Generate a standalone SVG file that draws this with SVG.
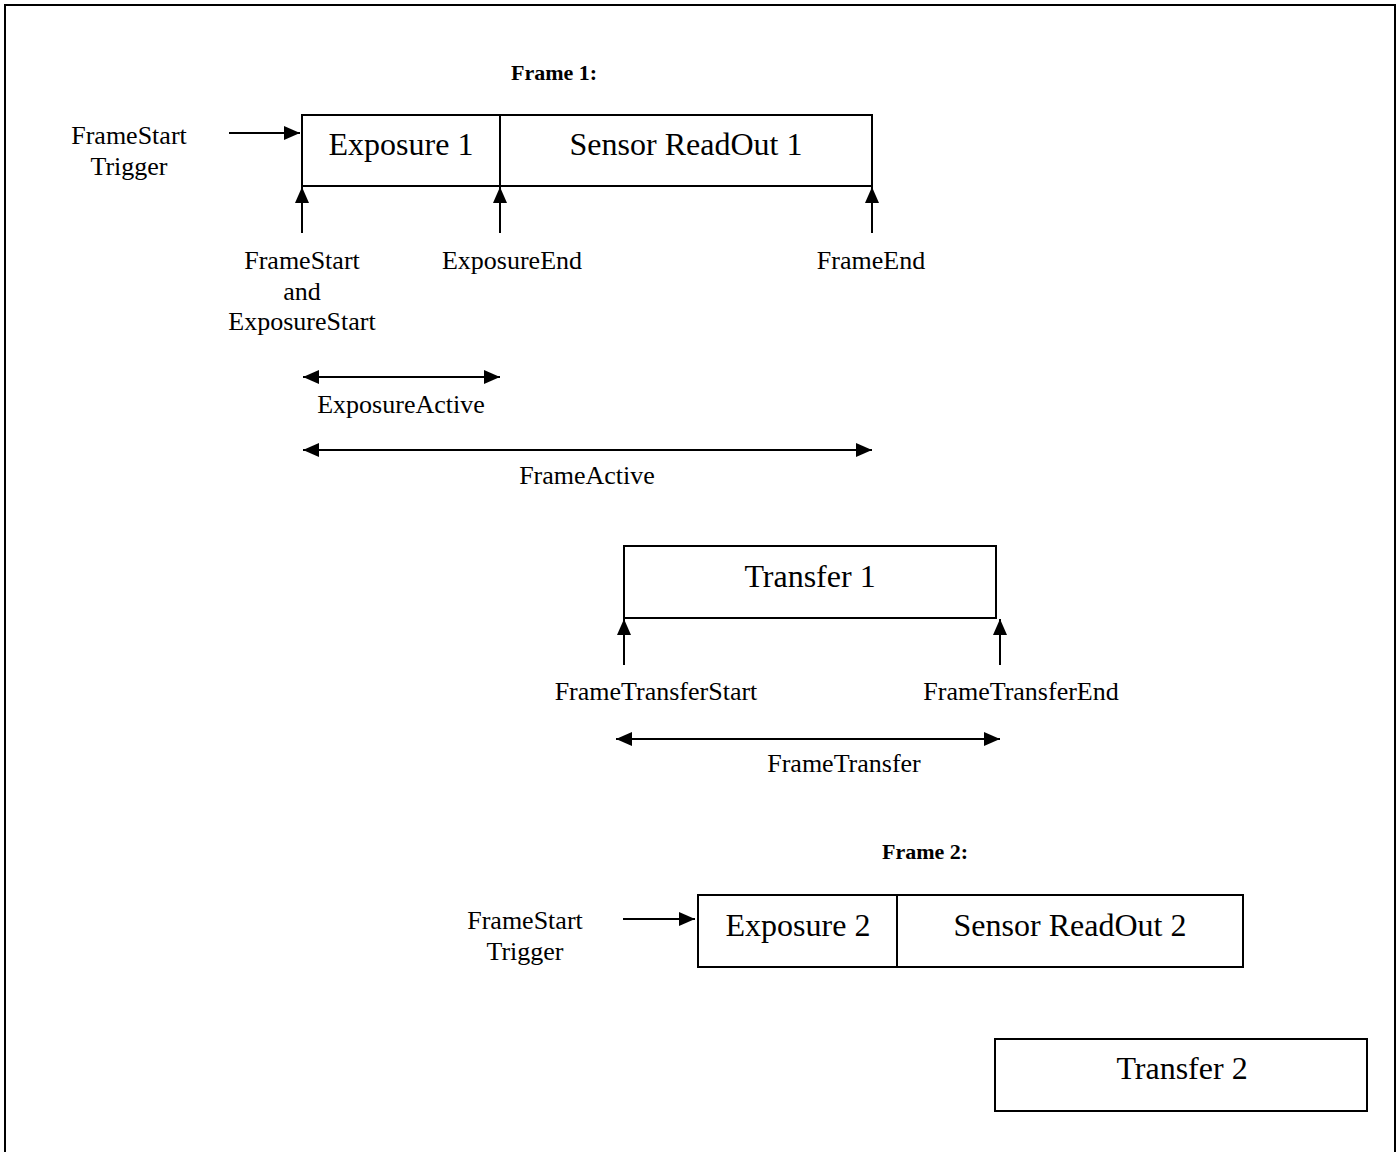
<svg xmlns="http://www.w3.org/2000/svg" width="1399" height="1152" viewBox="0 0 1399 1152">
<style>
text{font-family:"Liberation Serif","Times New Roman",serif;fill:#000;text-anchor:middle}
.s{font-size:26px}
.l{font-size:32px}
.b{font-size:22px;font-weight:bold}
.box{fill:#fff;stroke:#000;stroke-width:2}
.ln{stroke:#000;stroke-width:2;fill:none}
</style>
<defs>
<marker id="ah" viewBox="0 0 16 14" refX="16" refY="7" markerWidth="16" markerHeight="14" markerUnits="userSpaceOnUse" orient="auto-start-reverse">
<path d="M0,0 L16,7 L0,14 z" fill="#000"/>
</marker>
</defs>
<rect x="0" y="0" width="1399" height="1152" fill="#fff"/>
<rect x="5" y="5" width="1390" height="1160" fill="none" stroke="#000" stroke-width="2"/>

<g id="frame1">
<text class="b" x="554" y="80">Frame 1:</text>
<g id="exposure1"><rect class="box" x="302" y="115" width="198" height="71"/><text class="l" x="401" y="155">Exposure 1</text></g>
<g id="readout1"><rect class="box" x="500" y="115" width="372" height="71"/><text class="l" x="686" y="155">Sensor ReadOut 1</text></g>
<g id="trigger1"><text class="s" x="129" y="144">FrameStart</text><text class="s" x="129" y="175">Trigger</text></g>
</g>

<g id="labels1">
<text class="s" x="302" y="269">FrameStart</text>
<text class="s" x="302" y="300">and</text>
<text class="s" x="302" y="330">ExposureStart</text>
<text class="s" x="512" y="269">ExposureEnd</text>
<text class="s" x="871" y="269">FrameEnd</text>
<text class="s" x="401" y="413">ExposureActive</text>
<text class="s" x="587" y="484">FrameActive</text>
</g>

<g id="transfer1"><rect class="box" x="624" y="546" width="372" height="72"/><text class="l" x="810" y="587">Transfer 1</text></g>
<g id="labels2">
<text class="s" x="656" y="700">FrameTransferStart</text>
<text class="s" x="1021" y="700">FrameTransferEnd</text>
<text class="s" x="844" y="772">FrameTransfer</text>
</g>

<g id="frame2">
<text class="b" x="925" y="859">Frame 2:</text>
<g id="exposure2"><rect class="box" x="698" y="895" width="199" height="72"/><text class="l" x="798" y="936">Exposure 2</text></g>
<g id="readout2"><rect class="box" x="897" y="895" width="346" height="72"/><text class="l" x="1070" y="936">Sensor ReadOut 2</text></g>
<g id="trigger2"><text class="s" x="525" y="929">FrameStart</text><text class="s" x="525" y="960">Trigger</text></g>
</g>

<g id="transfer2"><rect class="box" x="995" y="1039" width="372" height="72"/><text class="l" x="1182" y="1079">Transfer 2</text></g>

<g id="connectors">
<line class="ln" x1="229" y1="133" x2="300" y2="133" marker-end="url(#ah)"/>
<line class="ln" x1="302" y1="233" x2="302" y2="187" marker-end="url(#ah)"/>
<line class="ln" x1="500" y1="233" x2="500" y2="187" marker-end="url(#ah)"/>
<line class="ln" x1="872" y1="233" x2="872" y2="187" marker-end="url(#ah)"/>
<line class="ln" x1="303" y1="377" x2="500" y2="377" marker-start="url(#ah)" marker-end="url(#ah)"/>
<line class="ln" x1="303" y1="450" x2="872" y2="450" marker-start="url(#ah)" marker-end="url(#ah)"/>
<line class="ln" x1="624" y1="665" x2="624" y2="619" marker-end="url(#ah)"/>
<line class="ln" x1="1000" y1="665" x2="1000" y2="619" marker-end="url(#ah)"/>
<line class="ln" x1="616" y1="739" x2="1000" y2="739" marker-start="url(#ah)" marker-end="url(#ah)"/>
<line class="ln" x1="623" y1="919" x2="695" y2="919" marker-end="url(#ah)"/>
</g>
</svg>
